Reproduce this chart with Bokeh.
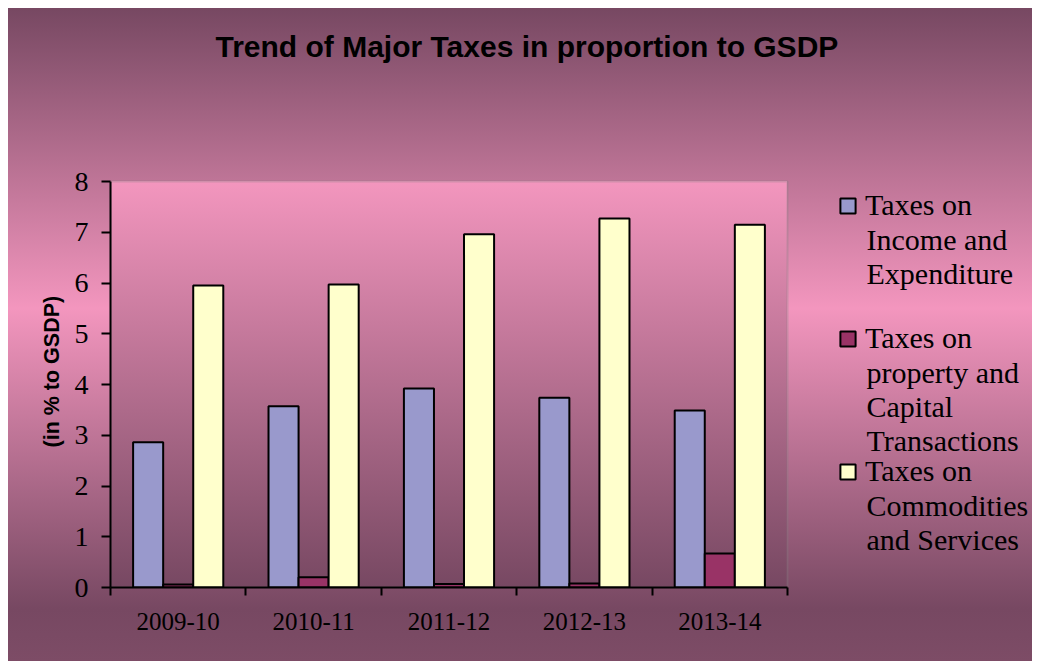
from bokeh.plotting import figure
from bokeh.models import (Range1d, LinearAxis, FixedTicker, SingleIntervalTicker, Legend, LegendItem,
                          Title, Label, BoxAnnotation)
from bokeh.embed import file_html
from bokeh.resources import INLINE

years = ["2009-10", "2010-11", "2011-12", "2012-13", "2013-14"]
income_exp = [2.86, 3.57, 3.92, 3.74, 3.49]
property_cap = [0.06, 0.20, 0.07, 0.08, 0.67]
commodities = [5.95, 5.97, 6.96, 7.27, 7.15]
series_lines = [["Taxes on", "Income and", "Expenditure"],
                ["Taxes on", "property and", "Capital", "Transactions"],
                ["Taxes on", "Commodities", "and Services"]]
series_colors = ["#9999cc", "#993366", "#ffffcc"]
y_max = 8
y_ticks_interval = 1
chart_title = "Trend of Major Taxes in proportion to GSDP"
y_title = "(in % to GSDP)"

# layout (figure pixels)
W, H = 1024, 653
FL, FB = 102, 74              # left / bottom panels
PA_TOP, PA_W = 173, 677       # plot-area top and width inside the figure
frame_w, frame_h = W - FL, H - FB
pa_h = frame_h - PA_TOP

n = len(years)
centers = [i + 0.5 for i in range(n)]
bounds = list(range(n + 1))

p = figure(width=W, height=H,
           x_range=Range1d(0, n * frame_w / PA_W), y_range=Range1d(0, y_max * frame_h / pa_h),
           output_backend="svg", toolbar_location=None,
           x_axis_location=None, y_axis_location=None,
           min_border_left=FL, min_border_top=0, min_border_right=0, min_border_bottom=FB)
p.border_fill_color = None
p.background_fill_color = None
p.outline_line_color = None
p.grid.visible = False
p.styles = {
    "margin-left": "8px",
    "margin-top": "8px",
    "background": (f"linear-gradient(to bottom, #f396be, #774862) {FL}px {PA_TOP}px / {PA_W}px {pa_h}px no-repeat, "
                   "linear-gradient(to bottom, #774862 0%, #f396be 46%, #774862 92%, #7d4c66 100%)")
}

# plot-area border
p.add_layout(BoxAnnotation(left=0, right=n, bottom=0, top=y_max, fill_color=None,
                           line_color="#808080", line_width=2, level="underlay"))

w = 0.222
renderers = []
for vals, off, col in zip([income_exp, property_cap, commodities], [-w, 0, w], series_colors):
    xs = [c + off for c in centers]
    r = p.vbar(x=xs, top=vals, width=w, fill_color=col, line_color="black", line_width=2)
    renderers.append(r)

# y axis
yax = LinearAxis(ticker=SingleIntervalTicker(interval=y_ticks_interval, num_minor_ticks=0),
                 bounds=(0, y_max))
yax.axis_line_width = 2
yax.major_tick_line_width = 2
yax.major_tick_in = 0
yax.major_tick_out = 9
yax.minor_tick_line_color = None
yax.major_label_text_font = "Liberation Serif"
yax.major_label_text_font_size = "28px"
yax.major_label_text_color = "black"
yax.major_label_standoff = 13
p.add_layout(yax, "left")

ytitle = Title(text=y_title, align="left", offset=140,
               text_font="Liberation Sans", text_font_style="bold",
               text_font_size="21.5px", text_color="black")
if "standoff" in ytitle.properties():
    ytitle.standoff = 16
p.add_layout(ytitle, "left")

# x axis: labels at category centres, ticks at category boundaries
xax = LinearAxis(ticker=FixedTicker(ticks=centers, minor_ticks=bounds), bounds=(0, n),
                 major_label_overrides={c: y for c, y in zip(centers, years)})
xax.axis_line_width = 2
xax.major_tick_line_color = None
xax.major_tick_in = 0
xax.major_tick_out = 0
xax.minor_tick_line_color = "black"
xax.minor_tick_line_width = 2
xax.minor_tick_in = 0
xax.minor_tick_out = 8
xax.major_label_text_font = "Liberation Serif"
xax.major_label_text_font_size = "25px"
xax.major_label_text_color = "black"
xax.major_label_standoff = 17
p.add_layout(xax, "below")

# chart title
p.add_layout(Label(x=105, y=frame_h - 38, x_units="screen", y_units="screen", text=chart_title,
                   text_font="Liberation Sans", text_font_style="bold", text_font_size="30px",
                   text_color="black", text_align="left", text_baseline="middle"))

# legend: one entry per series (glyph on the first line), continuation lines as labels
LH = 34                   # line height of the legend text
LEG_X = 728               # glyph left, from plot frame left
TEXT_X = LEG_X + 28       # text left, from plot frame left
FIRST_C, STEP = 197, 133  # first-line centre of entry 1 (from figure top) and entry pitch
for i, (lines, r) in enumerate(zip(series_lines, renderers)):
    c = FIRST_C + i * STEP
    leg = Legend(items=[LegendItem(label=lines[0], renderers=[r])],
                 location=(LEG_X, frame_h - (c + LH / 2)))
    leg.background_fill_color = None
    leg.border_line_color = None
    leg.padding = 0
    leg.margin = 0
    leg.spacing = 0
    leg.glyph_width = 19
    leg.glyph_height = 19
    leg.label_standoff = 8
    leg.label_height = LH
    leg.label_text_font = "Liberation Serif"
    leg.label_text_font_size = "30px"
    leg.label_text_color = "black"
    p.add_layout(leg, "center")
    for j, line in enumerate(lines[1:], start=1):
        p.add_layout(Label(x=TEXT_X, y=frame_h - (c + j * LH), x_units="screen", y_units="screen",
                           text=line, text_font="Liberation Serif", text_font_size="30px",
                           text_color="black", text_align="left", text_baseline="middle"))

open("out.html", "w").write(file_html(p, INLINE))
